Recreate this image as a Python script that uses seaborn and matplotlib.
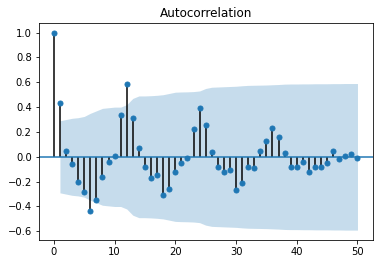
import matplotlib
matplotlib.use("Agg")
import matplotlib.pyplot as plt
import seaborn as sns
import numpy as np
import pandas as pd

lags = list(range(51))
acf_values = [1.0, 0.43, 0.05, -0.06, -0.20, -0.28, -0.44, -0.35, -0.16, -0.04,
              0.01, 0.34, 0.59, 0.31, 0.07, -0.08, -0.17, -0.15, -0.31, -0.26,
              -0.12, -0.05, -0.01, 0.22, 0.39, 0.26, 0.04, -0.08, -0.12, -0.11,
              -0.27, -0.21, -0.08, -0.09, 0.05, 0.13, 0.23, 0.16, 0.03, -0.08,
              -0.08, -0.04, -0.12, -0.08, -0.08, -0.05, 0.05, -0.02, 0.01, 0.02,
              -0.01]
band_lags = list(range(1, 51))
band_half = [0.29, 0.30, 0.31, 0.315, 0.325, 0.35, 0.37, 0.39, 0.395, 0.40,
             0.40, 0.42, 0.47, 0.49, 0.49, 0.492, 0.495, 0.50, 0.51, 0.52,
             0.522, 0.523, 0.525, 0.53, 0.55, 0.56, 0.562, 0.564, 0.566, 0.568,
             0.572, 0.575, 0.576, 0.577, 0.578, 0.58, 0.582, 0.585, 0.586, 0.586,
             0.587, 0.587, 0.588, 0.588, 0.588, 0.589, 0.589, 0.59, 0.59, 0.59]
title = "Autocorrelation"

df = pd.DataFrame({"lag": lags, "acf": acf_values})

fig = plt.figure(figsize=(383 / 72, 264 / 72), dpi=72)
ax = fig.add_axes([0.101, 0.091, 0.872, 0.823])

ax.vlines(df["lag"], 0, df["acf"], colors="black", linewidth=1.5)
ax.axhline(0, color="C0", linewidth=1.5)
ax.margins(0.05)
sns.scatterplot(data=df, x="lag", y="acf", ax=ax, s=25, color="C0",
                edgecolor="C0", linewidth=1, zorder=3)
bh = np.array(band_half)
ax.fill_between(band_lags, -bh, bh, alpha=0.25, color="C0", linewidth=0)
ax.set_title(title, fontsize=12)
ax.set_xlabel("")
ax.set_ylabel("")
ax.set_xticks([0, 10, 20, 30, 40, 50])
ax.set_yticks([-0.6, -0.4, -0.2, 0.0, 0.2, 0.4, 0.6, 0.8, 1.0])
ax.tick_params(labelsize=10)

fig.savefig("out.png", dpi=72)
